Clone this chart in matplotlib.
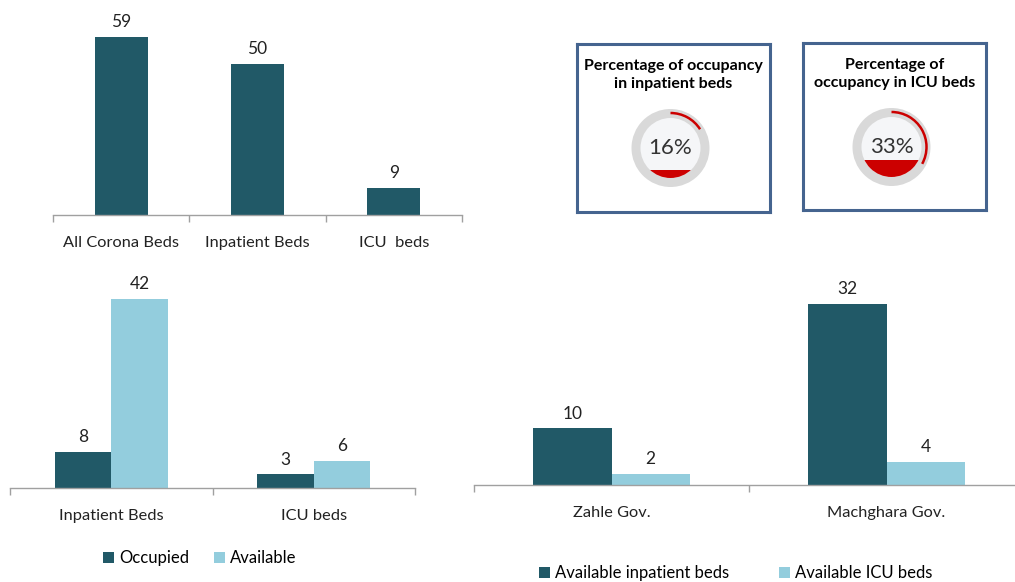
import numpy as np
import matplotlib.pyplot as plt
from matplotlib.patches import Circle, Arc, Rectangle

plt.rcParams['font.family'] = ['Lato', 'DejaVu Sans']

# Daten
beds_cats = ['All Corona Beds', 'Inpatient Beds', 'ICU  beds']
beds_vals = [59, 50, 9]

occ_cats = ['Inpatient Beds', 'ICU beds']
occupied = [8, 3]
available = [42, 6]

gov_cats = ['Zahle Gov.', 'Machghara Gov.']
avail_inpatient = [10, 32]
avail_icu = [2, 4]

gauge_titles = ['Percentage of occupancy\nin inpatient beds',
                'Percentage of\noccupancy in ICU beds']
gauge_pcts = [16, 33]

# Farben
DARK = '#215967'
LIGHT = '#93cddd'
AXIS = '#a0a0a0'
RED = '#cc0000'
BOX = '#45648f'

W, H = 1015, 582
fig = plt.figure(figsize=(W / 100, H / 100), dpi=100)


def px_axes(x0, y0, x1, y1):
    # Achse in Pixelkoordinaten (oben links = 0,0)
    return fig.add_axes([x0 / W, 1 - y1 / H, (x1 - x0) / W, (y1 - y0) / H])


def style_bar_axes(ax, n, labels):
    for s in ['top', 'right', 'left']:
        ax.spines[s].set_visible(False)
    ax.spines['bottom'].set_color(AXIS)
    ax.spines['bottom'].set_linewidth(1)
    ax.set_yticks([])
    ax.set_xlim(-0.5, n - 0.5)
    ax.set_xticks(range(n))
    ax.set_xticklabels(labels, fontsize=11.8, color='#222222')
    ax.tick_params(axis='x', which='major', length=0, pad=15)
    ax.set_xticks(np.arange(n + 1) - 0.5, minor=True)
    ax.tick_params(axis='x', which='minor', length=5, color=AXIS, width=1)
    ax.patch.set_alpha(0)


def label_bars(ax, bars):
    for b in bars:
        ax.annotate(str(int(b.get_height())),
                    (b.get_x() + b.get_width() / 2, b.get_height()),
                    xytext=(0, 5), textcoords='offset points',
                    ha='center', va='bottom', fontsize=12.5, color='#222222')


# Oben links: alle Betten
ax1 = px_axes(53, 10, 462, 215)
b = ax1.bar(range(len(beds_cats)), beds_vals, width=0.39, color=DARK)
ax1.set_ylim(0, 67.9)
style_bar_axes(ax1, len(beds_cats), beds_cats)
label_bars(ax1, b)

# Unten links: belegt / frei
ax2 = px_axes(10, 280, 415, 488)
x = np.arange(len(occ_cats))
w = 0.28
b1 = ax2.bar(x - w / 2, occupied, width=w, color=DARK, label='Occupied')
b2 = ax2.bar(x + w / 2, available, width=w, color=LIGHT, label='Available')
ax2.set_ylim(0, 46.2)
style_bar_axes(ax2, len(occ_cats), occ_cats)
label_bars(ax2, b1)
label_bars(ax2, b2)
fig.legend(handles=[b1, b2], loc='center', bbox_to_anchor=(200 / W, 1 - 558 / H),
           ncol=2, frameon=False, fontsize=12, handlelength=0.65, handleheight=0.65,
           handletextpad=0.3, columnspacing=1.5)

# Unten rechts: freie Betten je Gouvernement
ax3 = px_axes(474, 290, 1024, 485)
x = np.arange(len(gov_cats))
w = 0.285
b1 = ax3.bar(x - w / 2, avail_inpatient, width=w, color=DARK, label='Available inpatient beds')
b2 = ax3.bar(x + w / 2, avail_icu, width=w, color=LIGHT, label='Available ICU beds')
ax3.set_ylim(0, 34.5)
style_bar_axes(ax3, len(gov_cats), gov_cats)
label_bars(ax3, b1)
label_bars(ax3, b2)
fig.legend(handles=[b1, b2], loc='center', bbox_to_anchor=(736 / W, 1 - 573 / H),
           ncol=2, frameon=False, fontsize=12, handlelength=0.65, handleheight=0.65,
           handletextpad=0.3, columnspacing=3.0)

# Gauges (Belegungsquote)
boxes = [(577, 44, 770, 212), (803, 43, 986, 210)]
for (x0, y0, x1, y1), title, pct in zip(boxes, gauge_titles, gauge_pcts):
    ax = px_axes(x0, y0, x1, y1)
    bw, bh = x1 - x0, y1 - y0
    ax.set_xlim(0, bw)
    ax.set_ylim(0, bh)
    ax.set_xticks([])
    ax.set_yticks([])
    for s in ax.spines.values():
        s.set_color(BOX)
        s.set_linewidth(2.2)
    ax.text(bw / 2, bh - 31, title, ha='center', va='center', fontsize=11.5,
            fontweight='bold', color='black', linespacing=1.45)
    cx, cy = bw / 2 - 3, bh - 104
    R, r = 39, 30
    ax.add_patch(Circle((cx, cy), R, color='#d9d9d9', lw=0))
    inner = Circle((cx, cy), r, color='#f5f6f8', lw=0)
    ax.add_patch(inner)
    # rote Füllung unten, Höhe nach Prozentwert
    fill = Rectangle((cx - r, cy - r), 2 * r, 2 * r * pct / 100 * 0.85, color=RED, lw=0)
    ax.add_patch(fill)
    fill.set_clip_path(inner)
    # roter Bogen im Uhrzeigersinn ab 12 Uhr
    ax.add_patch(Arc((cx, cy), 2 * 35, 2 * 35, theta1=90 - pct * 3.6, theta2=90,
                     color=RED, lw=1.8))
    ax.text(cx, cy, f'{pct}%', ha='center', va='center', fontsize=16, color='#333333')

plt.savefig('out.png', dpi=100)
